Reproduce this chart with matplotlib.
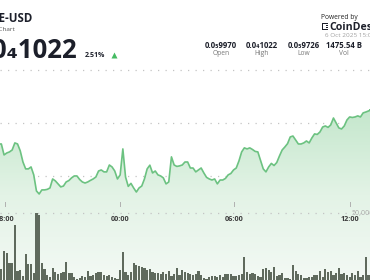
import numpy as np
import matplotlib.pyplot as plt
from matplotlib.colors import LinearSegmentedColormap
from matplotlib.patches import Polygon, Rectangle

# close price per bar, in units of 1e-9 USD
price = [
    9981, 9919, 9930, 9936, 9947, 9987, 9981, 9942, 9879, 9840,
    9840, 9851, 9806, 9715, 9698, 9721, 9721, 9724, 9732, 9783,
    9772, 9755, 9738, 9743, 9766, 9774, 9789, 9800, 9800, 9780,
    9766, 9760, 9766, 9775, 9783, 9794, 9828, 9834, 9823, 9823,
    9862, 9851, 9828, 9783, 9806, 9953, 9794, 9741, 9758, 9732,
    9709, 9732, 9743, 9783, 9840, 9861, 9817, 9828, 9806, 9800,
    9789, 9755, 9766, 9908, 9862, 9854, 9857, 9862, 9879, 9879,
    9845, 9845, 9823, 9834, 9845, 9817, 9792, 9783, 9777, 9783,
    9755, 9777, 9777, 9786, 9806, 9814, 9834, 9845, 9885, 9936,
    9959, 9953, 9959, 9950, 9939, 9936, 9888, 9840, 9823, 9851,
    9871, 9859, 9876, 9913, 9947, 9964, 9983, 10021, 10026, 10004,
    9981, 9981, 9987, 9998, 9987, 10015, 10038, 10035, 10049, 10077,
    10083, 10075, 10089, 10128, 10100, 10072, 10066, 10083, 10117, 10134,
    10131, 10134, 10140, 10134, 10157, 10162, 10168, 10174,
]
# volume per bar, thousands
volume_k = [
    8.2, 21.6, 20.1, 12.7, 12.7, 41.0, 6.7, 7.5, 3.0, 19.4,
    11.9, 11.9, 5.2, 50.0, 48.5, 12.7, 8.2, 3.7, 2.2, 9.0,
    6.0, 4.5, 5.2, 6.0, 13.4, 5.2, 5.2, 2.2, 0.7, 1.5,
    3.0, 2.2, 6.7, 3.0, 3.7, 5.2, 6.0, 6.0, 3.7, 3.0,
    3.7, 2.2, 1.5, 0.7, 7.5, 20.9, 6.0, 3.7, 6.0, 12.7,
    11.2, 10.4, 9.7, 9.0, 7.5, 8.2, 6.0, 5.2, 5.2, 4.5,
    6.0, 4.5, 6.7, 3.0, 4.5, 9.0, 3.7, 7.5, 6.0, 5.2,
    4.5, 3.7, 4.5, 6.7, 3.7, 1.5, 0.7, 2.2, 3.0, 3.0,
    2.2, 3.7, 2.2, 4.5, 4.5, 4.5, 3.0, 3.0, 3.7, 4.5,
    17.2, 6.0, 4.5, 5.2, 4.5, 3.0, 2.2, 8.2, 9.0, 7.5,
    6.0, 9.7, 3.0, 3.7, 5.2, 1.5, 1.5, 0.7, 11.2, 6.7,
    4.5, 3.7, 1.5, 1.5, 2.2, 2.2, 3.7, 3.7, 6.7, 2.2,
    8.2, 6.0, 6.7, 3.7, 5.2, 9.0, 4.5, 5.2, 3.7, 2.2,
    5.2, 3.7, 6.7, 2.2, 3.7, 17.2, 3.7, 13.4,
]
price_grid = [9800, 10100, 10400]
vol_grid_k = 50
time_labels = ["18:00", "00:00", "06:00", "12:00"]
stat_values = ["0.0\u20859970", "0.0\u20841022", "0.0\u20859726", "1475.54 B"]
stat_names = ["Open", "High", "Low", "Vol"]

W, H = 370, 280
pitch = 2.7
fonts = ['Open Sans', 'DejaVu Sans']

fig = plt.figure(figsize=(W / 100, H / 100), dpi=100)
fig.patch.set_facecolor('white')

x = np.arange(len(price))
xlim = (-0.5, -0.5 + W / pitch)
ylo, yhi = 9211, 10796

# price area
ax = fig.add_axes([0, 0, 1, 1])
ax.axis('off')
cmap = LinearSegmentedColormap.from_list('fade', ['#f3f9f4', '#e3f3e6', '#c4e7cc'])
grad = np.linspace(0, 1, 256).reshape(-1, 1)
im = ax.imshow(grad, extent=[xlim[0], xlim[1], ylo, max(price)], origin='lower',
               aspect='auto', cmap=cmap, zorder=1)
xs = np.r_[xlim[0], xlim[0], x, xlim[1], xlim[1]]
ys = np.r_[ylo, price[0], price, price[-1], ylo]
poly = Polygon(np.column_stack([xs, ys]), closed=True, facecolor='none', edgecolor='none')
ax.add_patch(poly)
im.set_clip_path(poly)
for g in price_grid:
    ax.axhline(g, color='#c4c4c4', lw=0.9, ls=(0, (1, 5)), zorder=0.5)
ax.plot(np.r_[xlim[0], x, xlim[1]], np.r_[price[0], price, price[-1]],
        color='#6cc281', lw=1.2, zorder=3)
ax.set_xlim(*xlim)
ax.set_ylim(ylo, yhi)

# volume bars
vax = fig.add_axes([0, 0, 1, 1])
vax.axis('off')
vax.bar(x, volume_k, width=0.85, color='#5f6a5d', edgecolor='none', zorder=2)
vax.axhline(vol_grid_k, color='#c4c4c4', lw=0.9, ls=(0, (1, 5)), zorder=1)
vax.set_xlim(*xlim)
vax.set_ylim(0, vol_grid_k * H / 67)

# overlay in pixel coords for header and labels
ov = fig.add_axes([0, 0, 1, 1])
ov.axis('off')
ov.set_xlim(0, W)
ov.set_ylim(H, 0)

tick_idx = [1.17, 43.9, 86.2, 129.1]
for idx, lab in zip(tick_idx, time_labels):
    px = (idx + 0.5) * pitch
    ov.plot([px, px], [202, 205.5], color='#b0b0b0', lw=0.7)
    ov.text(px, 219.5, lab, ha='center', va='center', fontsize=5.2,
            fontweight='bold', color='#3a3a3a', family=fonts)
ov.text(352, 214, "50,000", ha='left', va='center', fontsize=5, color='#a8a8a8', family=fonts)

ov.text(32.5, 21.5, "PEPE-USD", ha='right', va='baseline', fontsize=8.3,
        fontweight='bold', color='#1c1f2a', family=fonts)
ov.text(14.5, 31, "Price Chart", ha='right', va='baseline', fontsize=4.6,
        color='#555555', family=fonts)
ov.text(76.5, 57.5, "0.0\u20841022", ha='right', va='baseline', fontsize=18.5,
        fontweight='bold', color='#1c1f2a', family=fonts)
ov.text(85, 57.2, "2.51%", ha='left', va='baseline', fontsize=5, fontweight='bold',
        color='#1c1f2a', family=fonts)
ov.plot([113.5], [54.8], marker='^', ms=5, color='#45bb62', mec='none')

ov.text(321, 19, "Powered by", ha='left', va='baseline', fontsize=4.8,
        color='#222222', family=fonts)
# logo mark
for rx, ry, rw, rh in [(322, 22.5, 6, 1.3), (322, 22.5, 1.3, 7.5), (322, 28.7, 6, 1.3),
                       (326.2, 24.8, 1.3, 1.3), (326.2, 27, 1.3, 1.3)]:
    ov.add_patch(Rectangle((rx, ry), rw, rh, color='#1c1f2a', lw=0))
ov.text(329.5, 30.2, "CoinDesk", ha='left', va='baseline', fontsize=7.6,
        fontweight='bold', color='#1c1f2a', family=fonts)
ov.text(325, 37, "6 Oct 2025 15:00 UTC", ha='left', va='baseline', fontsize=4.6,
        color='#a0a0a0', family=fonts)

stat_x = [221, 262, 304, 344]
for sx, val, name in zip(stat_x, stat_values, stat_names):
    ov.text(sx, 47.5, val, ha='center', va='baseline', fontsize=5.6, fontweight='bold',
            color='#1c1f2a', family=fonts)
    ov.text(sx, 55, name, ha='center', va='baseline', fontsize=4.8,
            color='#777777', family=fonts)

fig.savefig('out.png', dpi=100, facecolor='white')
